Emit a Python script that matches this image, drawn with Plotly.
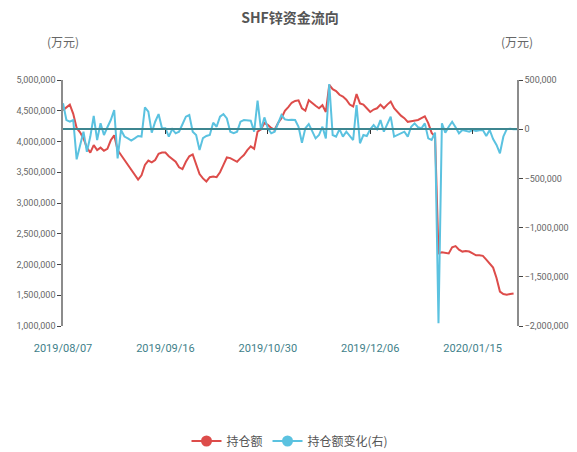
import plotly.graph_objects as go

# Category ticks (every 30th point is labelled)
tick_index = [0, 30, 60, 90, 120]
tick_labels = ["2019/08/07", "2019/09/16", "2019/10/30", "2019/12/06", "2020/01/15"]
minor_tick_index = [30, 60, 90, 120]

# 持仓额 (万元), left axis
holding = [
    4510000, 4550000, 4600000, 4450000, 4220000, 4150000, 4050000, 3900000, 3820000, 3940000,
    3860000, 3900000, 3850000, 3880000, 4020000, 4100000, 3860000, 3780000, 3700000, 3620000,
    3550000, 3470000, 3380000, 3450000, 3620000, 3690000, 3660000, 3700000, 3800000, 3820000,
    3820000, 3760000, 3710000, 3670000, 3580000, 3550000, 3670000, 3760000, 3790000, 3620000,
    3470000, 3400000, 3350000, 3420000, 3430000, 3420000, 3500000, 3620000, 3740000, 3730000,
    3700000, 3670000, 3730000, 3780000, 3860000, 3920000, 3880000, 4160000, 4200000, 4300000,
    4270000, 4220000, 4190000, 4300000, 4380000, 4500000, 4560000, 4630000, 4660000, 4670000,
    4540000, 4500000, 4670000, 4620000, 4580000, 4540000, 4590000, 4480000, 4920000, 4850000,
    4820000, 4760000, 4730000, 4680000, 4600000, 4570000, 4770000, 4620000, 4600000, 4540000,
    4480000, 4520000, 4540000, 4600000, 4540000, 4600000, 4650000, 4540000, 4480000, 4420000,
    4380000, 4320000, 4330000, 4340000, 4350000, 4380000, 4410000, 4300000, 4140000, 4080000,
    2180000, 2200000, 2190000, 2180000, 2280000, 2300000, 2240000, 2210000, 2220000, 2210000,
    2180000, 2150000, 2150000, 2140000, 2080000, 2010000, 1950000, 1780000, 1560000, 1520000,
    1510000, 1520000, 1530000, None,
]

# 持仓额变化 (万元), right axis
holding_change = [
    263000, 93000, 76000, 93000, -306000, -178000, -25000, -229000, -75000, 134000,
    -110000, 60000, -59000, 20000, 93000, 195000, -296000, -8000, -75000, -93000,
    -115000, -93000, -69000, -75000, 222000, 178000, -35000, 76000, 154000, 9000,
    9000, -75000, 0, -42000, -25000, 50000, 127000, 144000, -25000, -59000,
    -211000, -90000, -69000, -59000, 66000, 25000, 127000, 154000, 110000, -25000,
    -40000, -25000, 76000, 93000, 90000, 86000, -25000, 290000, -8000, 120000,
    9000, -42000, -25000, 60000, 144000, 100000, 93000, 95000, 93000, 25000,
    -137000, 9000, 52000, -20000, -93000, -59000, 25000, -93000, 459000, -59000,
    -75000, 0, -75000, -25000, -70000, -110000, 246000, -143000, -59000, -69000,
    0, 42000, 0, 93000, -25000, 50000, 127000, -75000, -59000, -40000,
    -25000, -75000, 25000, 59000, 20000, 9000, 59000, -93000, -110000, -35000,
    -1972000, 60000, -35000, 25000, 76000, 20000, -42000, -8000, -15000, -25000,
    -8000, -19000, -12000, -8000, -69000, -8000, -100000, -160000, -245000, -76000,
    0, 5000, 0, 0,
]

x_idx = list(range(len(holding_change)))

RED = "#dd4c4a"
BLUE = "#5bc2e0"
TEAL = "#3d8690"
AXIS = "#8c8c8c"
LABEL = "#666666"
FONT = "Roboto, 'Noto Sans CJK SC', sans-serif"
CJK = "'Noto Sans CJK SC', sans-serif"

fig = go.Figure()
fig.add_trace(go.Scatter(x=x_idx, y=holding, mode="lines", name="持仓额",
                         line=dict(color=RED, width=2), showlegend=False,
                         xaxis="x", yaxis="y"))
fig.add_trace(go.Scatter(x=x_idx, y=holding_change, mode="lines", name="持仓额变化(右)",
                         line=dict(color=BLUE, width=2), showlegend=False,
                         xaxis="x", yaxis="y2"))
# axis carrying the zero line and its small ticks
fig.add_trace(go.Scatter(x=[None], y=[None], xaxis="x2", yaxis="y2", showlegend=False,
                         hoverinfo="skip"))
# legend entries
fig.add_trace(go.Scatter(x=[None], y=[None], mode="lines+markers", name="持仓额",
                         line=dict(color=RED, width=2), marker=dict(size=11, color=RED)))
fig.add_trace(go.Scatter(x=[None], y=[None], mode="lines+markers", name="持仓额变化(右)",
                         line=dict(color=BLUE, width=2), marker=dict(size=11, color=BLUE)))

n = len(x_idx) - 1
W, H = 577, 452
ML, MR, MT, MB = 63, 60, 80, 126
fig.update_layout(
    width=W, height=H,
    margin=dict(l=ML, r=MR, t=MT, b=MB, autoexpand=False),
    paper_bgcolor="white", plot_bgcolor="white",
    font=dict(family=FONT, color=LABEL),
    title=dict(text="<b>SHF锌资金流向</b>", x=0.5, xref="paper", y=1 - 18 / H, yref="container",
               xanchor="center", yanchor="middle",
               font=dict(size=14, color="#555555", family=CJK)),
    xaxis=dict(range=[0, n], tickmode="array", tickvals=tick_index, ticktext=tick_labels,
               showline=False, showgrid=False, zeroline=False,
               ticks="outside", ticklen=12, tickcolor="rgba(0,0,0,0)",
               tickfont=dict(size=11, color="#3f7f8a")),
    xaxis2=dict(range=[0, n], overlaying="x", anchor="free", position=0.8,
                showline=True, linecolor=TEAL, linewidth=1.5,
                tickmode="array", tickvals=minor_tick_index, ticks="outside", ticklen=4,
                tickcolor="#333333", showticklabels=False, showgrid=False, zeroline=False),
    yaxis=dict(range=[1000000, 5000000], dtick=500000, tickformat=",",
               showline=True, linecolor=AXIS, linewidth=1.5,
               ticks="outside", ticklen=4, tickcolor="#444444",
               showgrid=False, zeroline=False, tickfont=dict(size=9, color=LABEL)),
    yaxis2=dict(range=[-2000000, 500000], dtick=500000, tickformat=",",
                overlaying="y", side="right", anchor="x",
                showline=True, linecolor=AXIS, linewidth=1.5,
                ticks="outside", ticklen=4, tickcolor="#444444",
                showgrid=False, zeroline=False, tickfont=dict(size=9, color=LABEL)),
    legend=dict(orientation="h", x=0.5, xanchor="center", xref="paper",
                y=1 - 441 / H, yanchor="middle", yref="container",
                font=dict(size=12, color="#555555", family=CJK),
                itemwidth=30, bgcolor="rgba(0,0,0,0)"),
)
plot_h = H - MT - MB
for xp in (0, 1):
    fig.add_annotation(text="(万元)", x=xp, xref="paper", y=1 + (MT - 42) / plot_h, yref="paper",
                       showarrow=False, xanchor="center", yanchor="middle",
                       font=dict(size=12, color=LABEL, family=CJK))

fig.write_html("out.html", config={"displayModeBar": False},
               post_script="document.body.style.margin='0';document.body.style.overflow='hidden';")
